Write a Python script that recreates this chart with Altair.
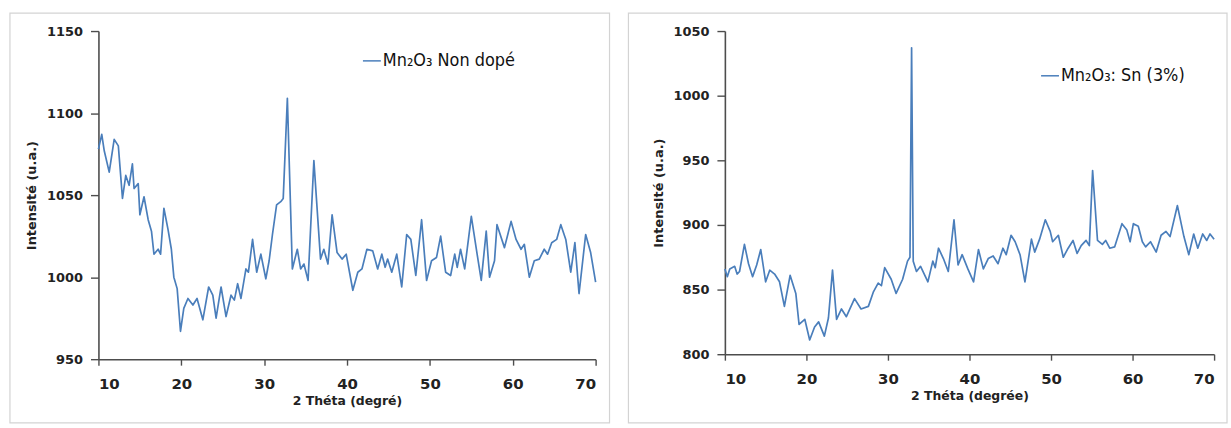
import altair as alt
import pandas as pd

# ---------------- data ----------------
x_left = [10.0, 10.4, 10.7, 11.3, 11.9, 12.4, 12.9, 13.3, 13.7, 14.1, 14.3, 14.8, 15.0, 15.5,
          16.0, 16.4, 16.7, 17.2, 17.5, 17.9, 18.4, 18.8, 19.1, 19.5, 19.9, 20.3, 20.8, 21.4,
          21.9, 22.6, 23.3, 23.8, 24.2, 24.8, 25.4, 26.0, 26.4, 26.8, 27.2, 27.8, 28.1, 28.6,
          29.1, 29.6, 30.2, 30.6, 31.0, 31.5, 32.0, 32.3, 32.8, 33.4, 34.0, 34.4, 34.8, 35.3,
          36.0, 36.8, 37.2, 37.7, 38.2, 38.8, 39.4, 39.9, 40.3, 40.7, 41.3, 41.8, 42.4, 43.1,
          43.7, 44.2, 44.6, 44.9, 45.4, 46.0, 46.6, 47.2, 47.7, 48.3, 49.0, 49.6, 50.2, 50.8,
          51.3, 51.9, 52.5, 53.0, 53.3, 53.7, 54.2, 55.0, 55.7, 56.2, 56.8, 57.2, 57.8, 58.1,
          59.0, 59.8, 60.4, 61.0, 61.4, 62.0, 62.6, 63.2, 63.8, 64.2, 64.7, 65.3, 65.8, 66.4,
          67.0, 67.5, 68.0, 68.8, 69.4, 70.0]
y_left = [1078, 1087, 1077, 1064, 1084, 1080, 1048, 1062, 1056, 1069, 1054, 1057, 1038, 1049,
          1035, 1028, 1014, 1017, 1014, 1042, 1029, 1017, 1000, 993, 967, 981, 987, 983,
          987, 974, 994, 989, 975, 994, 976, 989, 986, 996, 987, 1005, 1003, 1023,
          1003, 1014, 999, 1010, 1026, 1044, 1046, 1048, 1109, 1005, 1017, 1005, 1008, 998,
          1071, 1011, 1017, 1008, 1038, 1015, 1011, 1014, 1003, 992, 1003, 1005, 1017, 1016,
          1005, 1014, 1006, 1011, 1003, 1014, 994, 1026, 1023, 1001, 1035, 998, 1010, 1012,
          1025, 1003, 1001, 1014, 1006, 1017, 1005, 1037, 1014, 998, 1028, 1000, 1010, 1032,
          1018, 1034, 1023, 1017, 1020, 1000, 1010, 1011, 1017, 1014, 1021, 1023, 1032, 1023,
          1003, 1021, 990, 1026, 1015, 997]

x_right = [10.0, 10.3, 10.6, 11.2, 11.5, 11.8, 12.4, 12.9, 13.4, 13.9, 14.4, 15.0, 15.5, 16.1,
           16.7, 17.3, 18.0, 18.7, 19.1, 19.8, 20.4, 21.0, 21.5, 22.2, 22.7, 23.2, 23.7, 24.3,
           24.9, 25.9, 26.7, 27.6, 28.2, 28.8, 29.2, 29.6, 30.4, 31.0, 31.8, 32.4, 32.7, 32.9,
           33.1, 33.5, 34.0, 34.9, 35.5, 35.8, 36.2, 36.8, 37.4, 38.1, 38.6, 39.1, 39.8, 40.5,
           41.1, 41.7, 42.3, 42.9, 43.5, 44.1, 44.5, 45.1, 45.6, 46.2, 46.8, 47.6, 48.0, 48.6,
           49.3, 49.9, 50.2, 50.9, 51.5, 52.1, 52.7, 53.2, 53.7, 54.3, 54.7, 55.1, 55.7, 56.3,
           56.7, 57.2, 57.8, 58.7, 59.3, 59.7, 60.1, 60.7, 61.2, 61.6, 62.2, 62.9, 63.5, 64.1,
           64.6, 65.5, 66.3, 66.9, 67.5, 68.0, 68.6, 69.1, 69.5, 70.0]
y_right = [866, 860, 866, 868, 862, 864, 885, 870, 860, 869, 881, 856, 865, 862,
           856, 837, 861, 847, 823, 827, 811, 821, 825, 814, 828, 865, 827, 835,
           829, 843, 835, 837, 848, 855, 853, 867, 858, 847, 858, 872, 875, 1037,
           872, 864, 868, 856, 872, 867, 882, 874, 864, 904, 869, 877, 866, 856,
           881, 866, 874, 876, 870, 882, 877, 892, 887, 877, 856, 889, 879, 889,
           904, 895, 887, 892, 875, 882, 888, 878, 884, 888, 884, 942, 888, 885,
           888, 882, 883, 901, 896, 887, 901, 899, 887, 883, 887, 879, 892, 895,
           891, 915, 891, 877, 893, 882, 893, 888, 893, 889]

name_left = "Mn₂O₃ Non dopé"
name_right = "Mn₂O₃: Sn (3%)"
x_ticks = [10, 20, 30, 40, 50, 60, 70]
y_ticks_left = [950, 1000, 1050, 1100, 1150]
y_ticks_right = [800, 850, 900, 950, 1000, 1050]
y_title = "Intensité (u.a.)"
x_title_left = "2 Théta (degré)"
x_title_right = "2 Théta (degrée)"

BLUE = "#4A7EBB"
AXIS_C = "#4d4d4d"
FONT = "DejaVu Sans"
LEG_FONT = "DejaVu Sans Condensed, Roboto, Liberation Sans, sans-serif"


def panel(xs, ys, name, y_ticks, x_title, w, h, frame, legx, legy):
    df = pd.DataFrame({"x": xs, "y": ys, "s": [name] * len(xs)})
    line = alt.Chart(df).mark_line(strokeWidth=1.7, color=BLUE, strokeJoin="round").encode(
        x=alt.X("x:Q",
                scale=alt.Scale(domain=[x_ticks[0], x_ticks[-1]], nice=False, zero=False),
                axis=alt.Axis(values=x_ticks, title=x_title, grid=False, format="d",
                              labelFontSize=15, labelPadding=11, tickSize=6,
                              titlePadding=4, titleFontSize=12.5)),
        y=alt.Y("y:Q",
                scale=alt.Scale(domain=[y_ticks[0], y_ticks[-1]], nice=False, zero=False),
                axis=alt.Axis(values=y_ticks, title=y_title, grid=False, format="d",
                              labelFontSize=13, labelPadding=8, tickSize=8,
                              titlePadding=8, titleFontSize=13)),
        color=alt.Color("s:N", scale=alt.Scale(domain=[name], range=[BLUE]),
                        legend=alt.Legend(orient="none", legendX=legx, legendY=legy,
                                          title=None, symbolType="stroke",
                                          symbolStrokeWidth=1.5, symbolSize=324,
                                          labelFont=LEG_FONT, labelFontSize=18,
                                          labelColor="#111111", labelOffset=1,
                                          padding=0, labelLimit=300)),
    )
    box = alt.Chart(pd.DataFrame({"k": [0]})).mark_rect(
        fillOpacity=0, stroke="#d3d3d3", strokeWidth=1.2
    ).encode(x=alt.value(frame[0]), x2=alt.value(frame[1]),
             y=alt.value(frame[2]), y2=alt.value(frame[3]))
    return alt.layer(box, line).properties(width=w, height=h)


left = panel(x_left, y_left, name_left, y_ticks_left, x_title_left,
             500, 330, (-89, 514, -18, 394), 265, 20)
right = panel(x_right, y_right, name_right, y_ticks_right, x_title_right,
              492, 325, (-97, 505, -18, 394), 317, 35)

chart = alt.hconcat(left, right, spacing=15).resolve_scale(color="independent").properties(
    padding={"left": 8, "top": 10, "right": 2, "bottom": 4},
    background="white",
).configure_view(stroke="transparent").configure_axis(
    domainColor=AXIS_C, domainWidth=1.6, tickColor=AXIS_C, tickWidth=1.4,
    labelFont=FONT, labelFontWeight="bold", labelColor="#222222",
    titleFont=FONT, titleFontWeight="bold", titleColor="#222222",
)

chart.save("out.html", embed_options={"renderer": "svg", "actions": False})
